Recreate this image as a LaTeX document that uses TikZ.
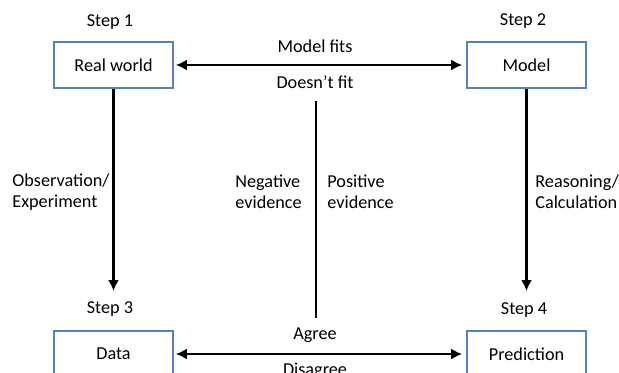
\documentclass[tikz,border=0pt]{standalone}
\usepackage{fontspec}
\setmainfont{Carlito}
\usetikzlibrary{positioning,arrows.meta}
\definecolor{boxblue}{RGB}{84,130,190}

\begin{document}
\begin{tikzpicture}[x=0.5pt,y=-0.5pt,
  every node/.style={font=\fontsize{9.1}{10.5}\selectfont},
  stepbox/.style={draw=boxblue,line width=0.8pt,minimum width=59.5pt,
    minimum height=23pt,inner sep=0pt},
  lbl/.style={inner sep=0pt},
  side/.style={inner sep=0pt,align=left,anchor=west},
  link/.style={line width=1.2pt,-{Latex[length=5.5pt,width=5.5pt]}},
  twoway/.style={line width=1.2pt,{Latex[length=5.5pt,width=5.5pt]}-{Latex[length=5.5pt,width=5.5pt]}}]
\path[use as bounding box,clip] (0,0) rectangle (619,372);

% the four steps
\node[stepbox] (real) at (113.5,65) {Real world};
\node[stepbox] (model) at (526.5,65) {Model};
\node[stepbox] (data) at (113.5,354) {Data};
\node[stepbox] (pred) at (526.5,354) {Prediction};
\node[lbl] (s1) at (110,22) {Step 1};
\node[lbl] (s2) at (523,21) {Step 2};
\node[lbl] (s3) at (110,309) {Step 3};
\node[lbl] (s4) at (524,310) {Step 4};

% labels
\node[lbl] (fits) at (315,46) {Model fits};
\node[lbl] (nofit) at (315,82) {Doesn't fit};
\node[lbl] (agree) at (315,335) {Agree};
\node[lbl] (disagree) at (315,371) {Disagree};
\node[side] (obs) at (12,192) {Observation/\\Experiment};
\node[side] (neg) at (235,192) {Negative\\evidence};
\node[side] (pos) at (327,192) {Positive\\evidence};
\node[side] (reas) at (535,192) {Reasoning/\\Calculation};

\coordinate (tip3) at (113.5,291);
\coordinate (tip4) at (526.5,291);
\coordinate (mtop) at (316,101);
\coordinate (mbot) at (316,318);

% connectors
\draw[twoway,shorten <=1pt,shorten >=2pt] (real) -- (model);
\draw[twoway,shorten <=1pt,shorten >=2pt] (data) -- (pred);
\draw[link] (real) -- (tip3);
\draw[link] (model) -- (tip4);
\draw[line width=1.2pt] (mtop) -- (mbot);
\end{tikzpicture}
\end{document}
